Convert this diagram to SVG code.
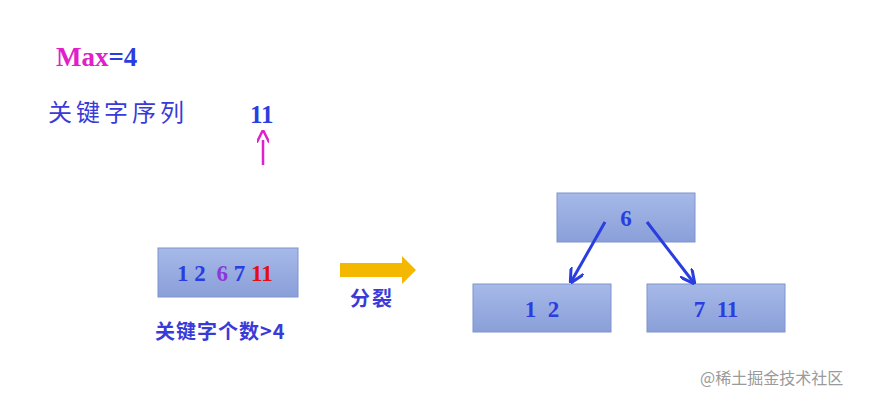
<svg xmlns="http://www.w3.org/2000/svg" width="873" height="403" viewBox="0 0 873 403">
<defs>
<style>
.box{fill:url(#g);stroke:#7f94cc;stroke-width:1}
.num{font-family:"Liberation Serif",serif;font-weight:bold;font-size:23px;fill:#2a3de0}
.cn{font-family:"Noto Sans CJK SC",sans-serif;font-weight:bold;font-size:22px;fill:#3a3ad8}
.conn{stroke:#2a3de0;stroke-width:3;fill:none;marker-end:url(#ah)}
</style>
<linearGradient id="g" x1="0" y1="0" x2="0" y2="1"><stop offset="0" stop-color="#a6b9e8"/><stop offset="1" stop-color="#8a9fd9"/></linearGradient>
<marker id="ah" viewBox="0 0 10 10" refX="9" refY="5" markerWidth="5" markerHeight="5" orient="auto"><path d="M0,0 L10,5 L0,10" fill="none" stroke="#2a3de0" stroke-width="2"/></marker>
<marker id="pa" viewBox="0 0 10 10" refX="2" refY="5" markerWidth="5" markerHeight="5" orient="auto"><path d="M0,0 L10,5 L0,10" fill="none" stroke="#e020c8" stroke-width="2"/></marker>
</defs>
<rect width="873" height="403" fill="#fff"/>
<text x="56" y="66" style="font-family:'Liberation Serif',serif;font-weight:bold;font-size:27px"><tspan fill="#e020c8">Max</tspan><tspan fill="#2a3de0">=4</tspan></text>
<text x="48" y="121" class="cn" style="font-size:24px;letter-spacing:4px;font-weight:normal">关键字序列</text>
<text x="250" y="123" class="num" style="font-size:25px">11</text>
<line x1="263" y1="165" x2="263" y2="140" stroke="#e020c8" stroke-width="2.5" marker-end="url(#pa)"/>
<g id="orig"><rect x="158" y="248" width="140" height="49" class="box"/>
<text x="177" y="281" class="num" style="white-space:pre"><tspan>1 2 </tspan><tspan fill="#8a3ad8" dx="5">6</tspan><tspan> 7 </tspan><tspan fill="#e01010">11</tspan></text></g>
<text x="155" y="339" class="cn" style="font-size:20px;letter-spacing:1px">关键字个数&gt;4</text>
<polygon points="340,263 402,263 402,256 416,270 402,284 402,277 340,277" fill="#f5b800"/>
<text x="350" y="306" class="cn" style="font-size:20px;letter-spacing:2px">分裂</text>
<g id="root"><rect x="557" y="193" width="138" height="49" class="box"/><text x="626" y="226" class="num" text-anchor="middle">6</text></g>
<g id="left"><rect x="473" y="284" width="138" height="48" class="box"/><text x="542" y="317" class="num" text-anchor="middle" style="white-space:pre">1  2</text></g>
<g id="right"><rect x="647" y="284" width="138" height="48" class="box"/><text x="716" y="317" class="num" text-anchor="middle" style="white-space:pre">7  11</text></g>
<g id="connectors">
<line x1="605" y1="222" x2="571" y2="282" class="conn"/>
<line x1="647" y1="222" x2="694" y2="283" class="conn"/>
</g>
<text x="700" y="384" style="font-family:'Noto Sans CJK SC',sans-serif;font-size:16px;fill:#9a9a9a">@稀土掘金技术社区</text>
</svg>
